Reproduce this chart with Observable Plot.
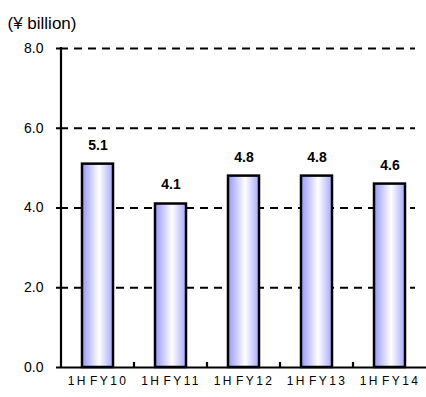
<!DOCTYPE html>
<html>
<head>
<meta charset="utf-8">
<script src="https://cdn.jsdelivr.net/npm/d3@7"></script>
<script src="https://cdn.jsdelivr.net/npm/@observablehq/plot@0.6"></script>
<style>
  html, body { margin: 0; padding: 0; background: #fff; }
  #chart svg { display: block; }
</style>
</head>
<body>
<div id="chart"></div>
<script>
// Half-year figures, ¥ billion
const periods = ["1H FY10", "1H FY11", "1H FY12", "1H FY13", "1H FY14"];
const values = [5.1, 4.1, 4.8, 4.8, 4.6];
const yTicks = [0, 2, 4, 6, 8];
const gridValues = [2, 4, 6, 8];
const unitLabel = "(¥ billion)";

const data = periods.map((period, i) => ({period, value: values[i]}));

const font = "Arial, 'Liberation Sans', sans-serif";

const plot = Plot.plot({
  width: 426,
  height: 397,
  marginLeft: 60,
  marginRight: 0,
  marginTop: 48,
  marginBottom: 30,
  style: {fontFamily: font, background: "#fff", color: "#000"},
  x: {type: "band", domain: periods, range: [59, 427], paddingInner: 0.58, paddingOuter: 0.29},
  y: {domain: [0, 8]},
  marks: [
    Plot.ruleY(gridValues, {stroke: "#000", strokeWidth: 2.2, strokeDasharray: "8,6", insetRight: 11}),
    Plot.barY(data, {x: "period", y: "value", fill: "url(#barFill)", stroke: "#000", strokeWidth: 2.5}),
    Plot.text(data, {x: "period", y: "value", text: d => d.value.toFixed(1), dy: -19,
      fontWeight: "bold", fontSize: 14, fill: "#000"}),
    Plot.ruleY([0], {stroke: "#000", strokeWidth: 2.2}),
    Plot.axisY({ticks: yTicks, tickFormat: d3.format(".1f"), tickSize: 4, tickPadding: 13,
      fontSize: 14, strokeWidth: 2, label: null}),
    Plot.axisX({tickSize: 0, tickPadding: 9, fontSize: 12, label: null}),
    Plot.text([unitLabel], {frameAnchor: "top-left", dx: -53, dy: -32, textAnchor: "start",
      lineAnchor: "top", fontSize: 17, fill: "#000"})
  ]
});

const svg = d3.select(plot);

// horizontal white-centred gradient for the bars
const grad = svg.insert("defs", ":first-child").append("linearGradient")
  .attr("id", "barFill").attr("x1", "0").attr("x2", "1").attr("y1", "0").attr("y2", "0");
grad.append("stop").attr("offset", "0").attr("stop-color", "#9797ff");
grad.append("stop").attr("offset", "0.55").attr("stop-color", "#ffffff");
grad.append("stop").attr("offset", "1").attr("stop-color", "#a8a8ff");

// x-axis letter spacing
svg.selectAll("g[aria-label='x-axis tick label'] text")
  .style("letter-spacing", "2.4px")
  .style("word-spacing", "-3.5px");

// left axis line and category boundary ticks, placed from the scales
const xs = plot.scale("x");
const ys = plot.scale("y");
const gap = xs.step - xs.bandwidth;
const y0 = ys.apply(0);
const yTop = ys.apply(yTicks[yTicks.length - 1]);
const left = xs.apply(periods[0]) - gap / 2;
const deco = svg.append("g").attr("stroke", "#000").attr("stroke-width", 2.2);
deco.append("line").attr("x1", left).attr("x2", left).attr("y1", y0 + 1).attr("y2", yTop - 1);
periods.slice(1).forEach(p => {
  const bx = xs.apply(p) - gap / 2;
  deco.append("line").attr("x1", bx).attr("x2", bx).attr("y1", y0).attr("y2", y0 - 5);
});

document.getElementById("chart").appendChild(plot);
</script>
</body>
</html>
